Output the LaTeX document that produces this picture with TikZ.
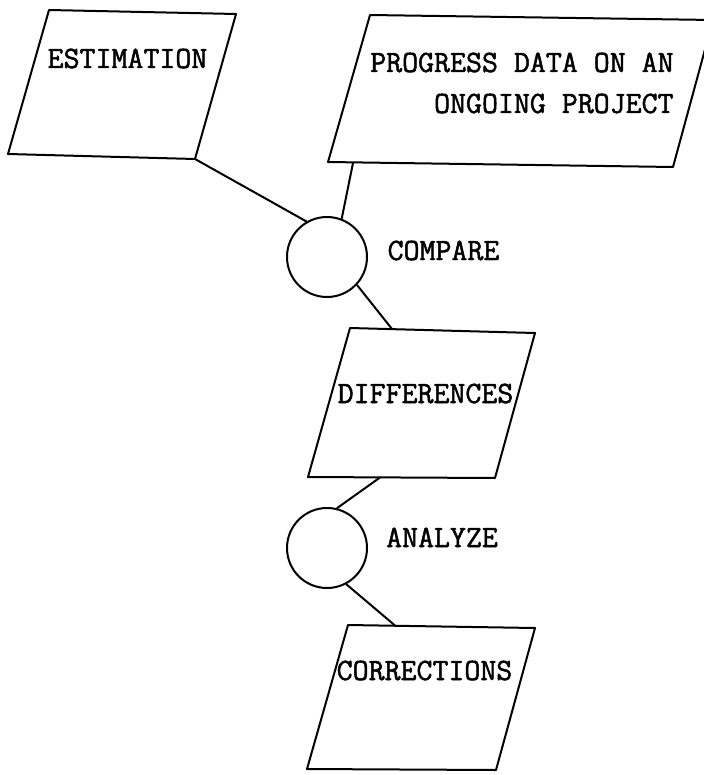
\documentclass[tikz,border=0pt]{standalone}
\usepackage{fontspec}
\newfontfamily\boxfont{Latin Modern Mono}[FakeBold=1.6]
\begin{document}
\begin{tikzpicture}[x=0.5pt,y=-0.5pt,
  outline/.style={line width=1pt, line join=round},
  label/.style={font=\boxfont\fontsize{15.5pt}{20.5pt}\selectfont, inner sep=0pt, anchor=base},
  joint/.style={circle, draw, line width=1pt, minimum size=40pt, inner sep=0pt},
  link/.style={line width=1pt}]
\clip (0,0) rectangle (704,775);

% input: estimation
\coordinate (est-tl) at (49,10);
\coordinate (est-tr) at (236,14);
\coordinate (est-br) at (195,159);
\coordinate (est-bl) at (8,154);
\draw[outline] (est-tl) -- (est-tr) -- (est-br) -- (est-bl) -- cycle;
\node[label] (est) at (127.5,68) {ESTIMATION};

% input: progress data
\coordinate (prog-tl) at (370,15);
\coordinate (prog-tr) at (713,20);
\coordinate (prog-br) at (673,167);
\coordinate (prog-bl) at (328,162);
\coordinate (prog-out) at (353,163);
\draw[outline] (prog-tl) -- (prog-tr) -- (prog-br) -- (prog-bl) -- cycle;
\node[label, anchor=base east, align=right] (prog) at (674,113)
  {PROGRESS DATA ON AN\\ONGOING PROJECT};

% compare step
\node[joint] (cmp) at (327,257) {};
\node[label] (cmp-label) at (443.5,260) {COMPARE};

% differences
\coordinate (diff-tl) at (350,328);
\coordinate (diff-tr) at (535,333);
\coordinate (diff-br) at (495,478);
\coordinate (diff-bl) at (308,477);
\coordinate (diff-in) at (392,329);
\coordinate (diff-out) at (380,477.5);
\draw[outline] (diff-tl) -- (diff-tr) -- (diff-br) -- (diff-bl) -- cycle;
\node[label] (diff) at (425.5,403) {DIFFERENCES};

% analyze step
\node[joint] (ana) at (327,548) {};
\node[label] (ana-label) at (442,547) {ANALYZE};

% corrections
\coordinate (corr-tl) at (348,625);
\coordinate (corr-tr) at (535,628);
\coordinate (corr-br) at (496,770);
\coordinate (corr-bl) at (307,769);
\coordinate (corr-in) at (395,625.5);
\draw[outline] (corr-tl) -- (corr-tr) -- (corr-br) -- (corr-bl) -- cycle;
\node[label] (corr) at (424.5,680) {CORRECTIONS};

% connectors
\draw[link] (est-br) -- (cmp.120);
\draw[link] (prog-out) -- (cmp.69);
\draw[link] (cmp.-43) -- (diff-in);
\draw[link] (diff-out) -- (ana.76);
\draw[link] (ana.-62) -- (corr-in);
\end{tikzpicture}
\end{document}
